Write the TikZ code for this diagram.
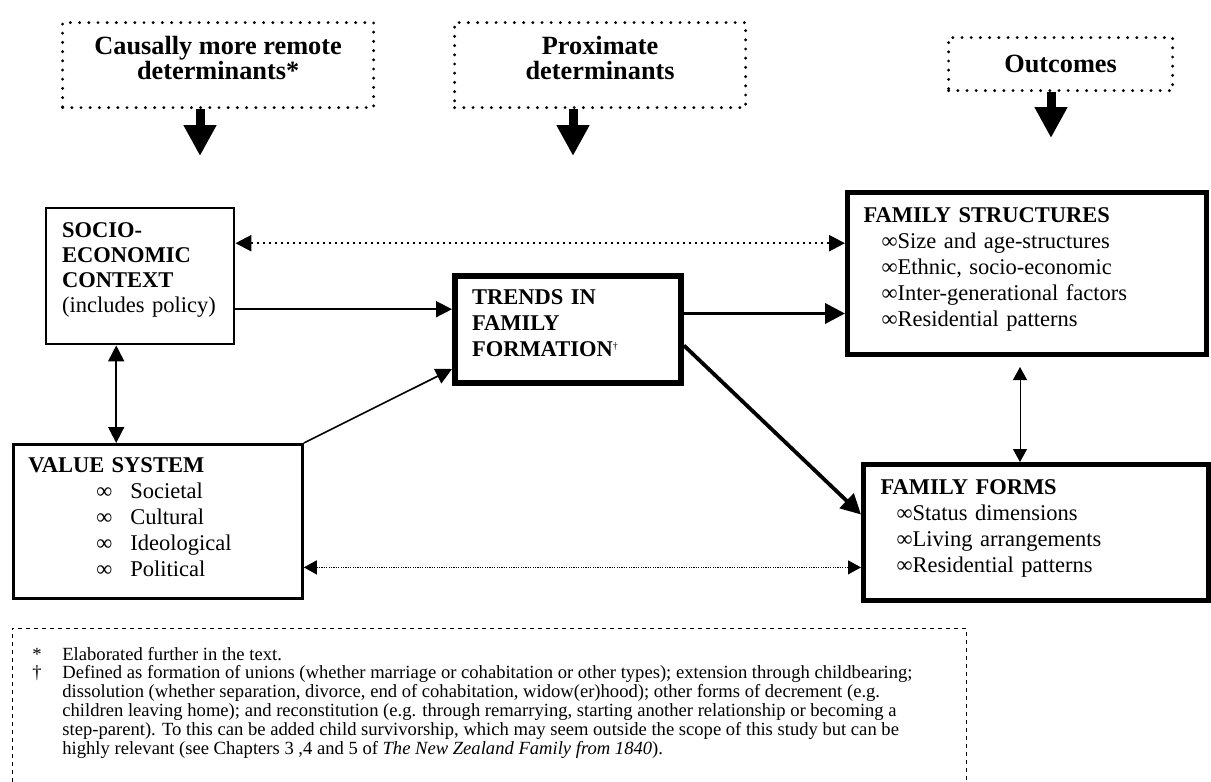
\documentclass[tikz,border=0pt]{standalone}
\usepackage{fontspec}
\setmainfont{Liberation Serif}
\usetikzlibrary{arrows.meta,calc}

\begin{document}
\begin{tikzpicture}[
      x=0.5pt, y=-0.5pt,
      headbox/.style={draw, line width=1.6pt, line cap=round, dash pattern=on 0pt off 4.6pt,
        anchor=north west, align=center, inner sep=0pt,
        font=\bfseries\fontsize{13.15}{12.5}\selectfont},
      plainbox/.style={draw, anchor=north west, align=left, inner ysep=0pt,
        font=\fontsize{11.25}{13}\selectfont},
      bigarrow/.style={line width=4.5pt, -{Triangle[width=15.5pt,length=15.5pt]}},
      thinlink/.style={line width=0.8pt, -{Triangle[width=8pt,length=8pt]}},
      thinboth/.style={line width=0.8pt, {Triangle[width=8pt,length=8pt]}-{Triangle[width=8pt,length=8pt]}},
      thicklink/.style={line width=1.9pt, -{Triangle[width=10pt,length=10pt]}},
      finelink/.style={line width=0.5pt, {Triangle[width=7pt,length=6.5pt]}-{Triangle[width=7pt,length=6.5pt]}},
      dotlink/.style={line width=1.2pt, dash pattern=on 1.2pt off 1.8pt,
        {Triangle[width=8pt,length=8pt]}-{Triangle[width=8pt,length=8pt]}},
      finedot/.style={line width=0.6pt, dash pattern=on 0.6pt off 0.6pt,
        {Triangle[width=7pt,length=6.5pt]}-{Triangle[width=7pt,length=6.5pt]}},
      notebox/.style={line width=0.5pt, dash pattern=on 2pt off 2pt}
    ]
      \useasboundingbox (0,0) rectangle (1211,782);

      % determinant headings
      \node[headbox, minimum width=155.5pt, minimum height=42.5pt] (remote) at (61,21)
        {Causally more remote\\determinants*\\[-5pt]\mbox{}};
      \node[headbox, minimum width=145.5pt, minimum height=42.5pt] (prox) at (453,21)
        {Proximate\\determinants\\[-5pt]\mbox{}};
      \node[headbox, minimum width=112pt, minimum height=26.5pt] (outc) at (947,36)
        {Outcomes};
      \coordinate (remote tip) at (200,156);
      \coordinate (prox tip) at (573,156);
      \coordinate (outc tip) at (1051,138);
      \draw[bigarrow] (remote.south -| remote tip) -- (remote tip);
      \draw[bigarrow] (prox.south -| prox tip) -- (prox tip);
      \draw[bigarrow] (outc.south -| outc tip) -- (outc tip);

      % boxes
      \node[plainbox, line width=1.2pt, inner xsep=8pt, text width=78pt, minimum height=68pt,
        font=\fontsize{11.25}{12.5}\selectfont] (socio) at (45,207)
        {\textbf{SOCIO-}\\\textbf{ECONOMIC}\\\textbf{CONTEXT}\\(includes policy)\\[-4pt]\mbox{}};
      \node[plainbox, line width=1.4pt, inner xsep=7.5pt, text width=129.5pt, minimum height=77pt] (value) at (12,443)
        {\textbf{VALUE SYSTEM}\\
         \hspace*{34pt}\makebox[17pt][l]{∞}Societal\\
         \hspace*{34pt}\makebox[17pt][l]{∞}Cultural\\
         \hspace*{34pt}\makebox[17pt][l]{∞}Ideological\\
         \hspace*{34pt}\makebox[17pt][l]{∞}Political\\[-8.5pt]\mbox{}};
      \node[plainbox, line width=3pt, inner xsep=8.5pt, text width=96pt, minimum height=53.5pt] (trends) at (452,273)
        {\textbf{TRENDS IN}\\\textbf{FAMILY}\\\textbf{FORMATION}\textsuperscript{\tiny †}\\[-7pt]\mbox{}};
      \node[plainbox, line width=2.5pt, inner xsep=8pt, text width=163.5pt, minimum height=81pt] (fs) at (845,190)
        {\textbf{FAMILY STRUCTURES}\\
         \hspace*{9pt}∞Size and age-structures\\
         \hspace*{9pt}∞Ethnic, socio-economic\\
         \hspace*{9pt}∞Inter-generational factors\\
         \hspace*{9pt}∞Residential patterns\\[-6.5pt]\mbox{}};
      \node[plainbox, line width=2.5pt, inner xsep=8.5pt, text width=155.5pt, minimum height=68pt] (ff) at (861,462)
        {\textbf{FAMILY FORMS}\\
         \hspace*{8pt}∞Status dimensions\\
         \hspace*{8pt}∞Living arrangements\\
         \hspace*{8pt}∞Residential patterns\\[-6.5pt]\mbox{}};

      % links
      \draw[dotlink] ($(socio.east)+(0,-33)$) -- ($(socio.east -| fs.west)+(0,-33)$);
      \draw[thinlink] ($(socio.east)+(0,33)$) -- ($(socio.east -| trends.west)+(0,33)$);
      \draw[thinboth] ($(socio.south)+(-24,0)$) coordinate (sv) -- (sv |- value.north);
      \draw[thinlink] (value.north east) -- ($(trends.south west)+(0,-17)$);
      \draw[thicklink] ($(trends.east)+(0,-16)$) -- ($(trends.east -| fs.west)+(0,-16)$);
      \draw[thicklink] ($(trends.east)+(0,16)$) -- ($(ff.west)+(0,-18)$);
      \draw[finelink] ($(fs.south)+(-7,10)$) coordinate (sf) -- (sf |- ff.north);
      \draw[finedot] ($(value.east)+(0,46)$) -- ($(value.east -| ff.west)+(0,46)$);

      % notes
      \draw[notebox] (12,782) |- (966,628) -- (966,782);
      \node[anchor=base west, inner sep=0pt, font=\fontsize{9.3}{9.4}\selectfont] (notes) at (32,660)
        {\begin{tabular}[t]{@{}p{15pt}@{}l@{}}
          * & Elaborated further in the text.\\
          † & Defined as formation of unions (whether marriage or cohabitation or other types); extension through childbearing;\\
            & dissolution (whether separation, divorce, end of cohabitation, widow(er)hood); other forms of decrement (e.g.\\
            & children leaving home); and reconstitution (e.g. through remarrying, starting another relationship or becoming a\\
            & step-parent). To this can be added child survivorship, which may seem outside the scope of this study but can be\\
            & highly relevant (see Chapters 3 ,4 and 5 of \textit{The New Zealand Family from 1840}).
        \end{tabular}};
    \end{tikzpicture}
\end{document}
